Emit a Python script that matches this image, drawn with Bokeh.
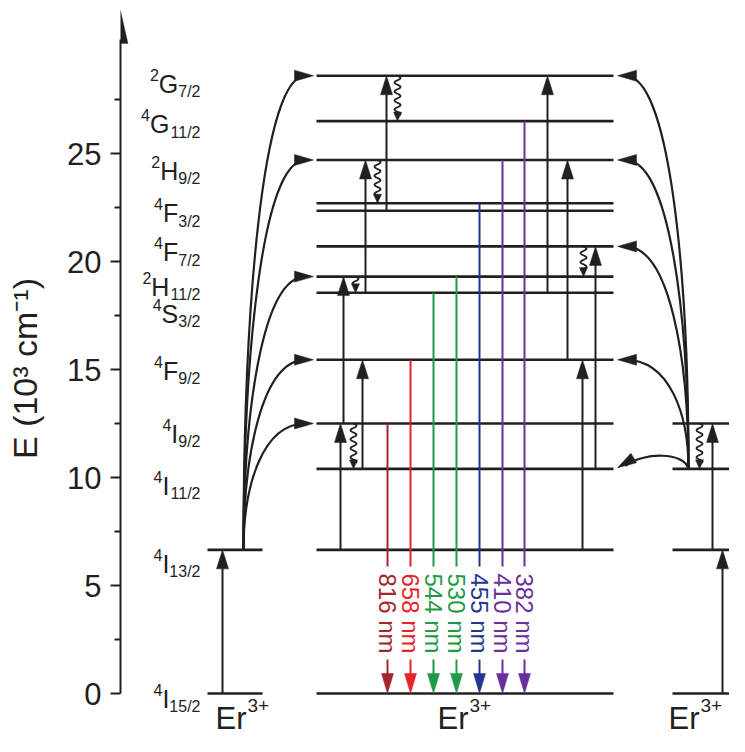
import numpy as np
from bokeh.plotting import figure
from bokeh.models import Range1d, FixedTicker, PolyAnnotation
from bokeh.core.properties import value
from bokeh.embed import file_html
from bokeh.resources import INLINE

# ---------------- data ----------------
level_names = ["4I15/2", "4I13/2", "4I11/2", "4I9/2", "4F9/2", "4S3/2", "2H11/2",
               "4F7/2", "4F5/2", "4F3/2", "2H9/2", "4G11/2", "2G7/2"]
level_energy = [0.0, 6.65, 10.4, 12.5, 15.45, 18.55, 19.3, 20.7, 22.35, 22.7, 24.7, 26.5, 28.6]

label_level = ["4I15/2", "4I13/2", "4I11/2", "4I9/2", "4F9/2", "4S3/2", "2H11/2",
               "4F7/2", "4F3/2", "2H9/2", "4G11/2", "2G7/2"]
label_sup = ["4", "4", "4", "4", "4", "4", "2", "4", "4", "2", "4", "2"]
label_letter = ["I", "I", "I", "I", "F", "S", "H", "F", "F", "H", "G", "G"]
label_sub = ["15/2", "13/2", "11/2", "9/2", "9/2", "3/2", "11/2", "7/2", "3/2", "9/2", "11/2", "7/2"]

emission_nm = [816, 658, 544, 530, 455, 410, 382]
emission_from = ["4I9/2", "4F9/2", "4S3/2", "2H11/2", "4F3/2", "2H9/2", "4G11/2"]
emission_color = ["#a3262a", "#e52329", "#1f9a46", "#1f9a46", "#24358f", "#6a2f9a", "#6a2f9a"]

y_ticks = [0, 5, 10, 15, 20, 25]
y_minor = [2.5, 7.5, 12.5, 17.5, 22.5, 27.5]
ion_label = "Er"
ion_charge = "3+"

# ---------------- layout ----------------
PX = 21.6                      # pixels per 10^3 cm^-1
ZERO_PX = 693                  # pixel row of E = 0
def dy(px):
    return px / PX

E = dict(zip(level_names, level_energy))
INK = "#231f20"
FONT = value("Liberation Sans")

# columns: (x_start, x_end, levels shown)
columns = [
    (207, 262, ["4I15/2", "4I13/2"]),
    (316, 613, level_names),
    (672, 729, ["4I15/2", "4I13/2", "4I11/2", "4I9/2"]),
]
# straight up-arrows (x, from, to)
up_arrows = [
    (222, "4I15/2", "4I13/2"),
    (340, "4I13/2", "4I9/2"),
    (343, "4I9/2", "2H11/2"),
    (362, "4I11/2", "4F9/2"),
    (365, "4S3/2", "2H9/2"),
    (386, "4F5/2", "2G7/2"),
    (547, "4S3/2", "2G7/2"),
    (567, "4F9/2", "2H9/2"),
    (582, "4I13/2", "4F9/2"),
    (595, "4I11/2", "4F7/2"),
    (712, "4I13/2", "4I9/2"),
    (722, "4I15/2", "4I13/2"),
]
# non-radiative (wavy) arrows (x, from, to)
wavy = [
    (353, "4I9/2", "4I11/2"),
    (355, "2H11/2", "4S3/2"),
    (377, "2H9/2", "4F3/2"),
    (397, "2G7/2", "4G11/2"),
    (583, "4F7/2", "2H11/2"),
    (699, "4I9/2", "4I11/2"),
]
emission_x = [387, 410, 433, 456, 479, 502, 524]
TEXT_MID = dy(80)

left_src = (243, "4I13/2")
left_tip_x = 313
left_targets = ["4I9/2", "4F9/2", "2H11/2", "2H9/2", "2G7/2"]
right_src = (688, "4I11/2")
right_tip_x = 617
right_targets = ["4F9/2", "4F7/2", "2H9/2", "2G7/2"]

label_offset = {"4I15/2": 5, "4I13/2": 14, "4I11/2": 17, "4I9/2": 10, "4F9/2": 11,
                "4S3/2": 21, "2H11/2": 10, "4F7/2": 6, "4F3/2": 10, "2H9/2": 11,
                "4G11/2": 3, "2G7/2": 8}
ADV = {"0": .556, "1": .556, "2": .556, "3": .556, "4": .556, "5": .556, "6": .556,
       "7": .556, "8": .556, "9": .556, "/": .278, "G": .778, "H": .722, "F": .611,
       "S": .667, "I": .278, "E": .667, "r": .333}
def width(s, size):
    return sum(ADV.get(c, .556) for c in s) * size

# ---------------- figure ----------------
W, H = 729, 736
p = figure(width=W, height=H, x_range=Range1d(120, W),
           y_range=Range1d(dy(ZERO_PX - H), dy(ZERO_PX)),
           x_axis_location=None, y_axis_location="left", output_backend="svg",
           toolbar_location=None, min_border_left=120, min_border_right=0,
           min_border_top=0, min_border_bottom=0, outline_line_color=None)
p.xgrid.visible = False
p.ygrid.visible = False

ax = p.yaxis[0]
ax.ticker = FixedTicker(ticks=y_ticks, minor_ticks=y_minor)
ax.bounds = (0, 30.3)
ax.axis_line_width = 2
ax.axis_line_color = INK
ax.major_tick_line_width = 2
ax.minor_tick_line_width = 2
ax.major_tick_line_color = INK
ax.minor_tick_line_color = INK
ax.major_tick_out = 10
ax.major_tick_in = 0
ax.minor_tick_out = 6
ax.minor_tick_in = 0
ax.major_label_text_font = "Liberation Sans"
ax.major_label_text_font_size = "31px"
ax.major_label_text_color = INK
ax.major_label_standoff = 9
ax.axis_label = "E (10\u00b3 cm\u207b\u00b9)"
ax.axis_label_text_font = "Liberation Sans"
ax.axis_label_text_font_size = "34px"
ax.axis_label_text_font_style = "normal"
ax.axis_label_text_color = INK
ax.axis_label_standoff = 20

# axis arrow head
ah_tip = dy(ZERO_PX - 10)
p.add_layout(PolyAnnotation(xs=[120, 112.5, 127.5], ys=[ah_tip, ah_tip - dy(33), ah_tip - dy(33)],
                            fill_color=INK, fill_alpha=1, line_color=INK, line_width=1))

# energy levels
lx0, lx1, ly = [], [], []
for xs, xe, levs in columns:
    for n in levs:
        lx0.append(xs); lx1.append(xe); ly.append(E[n])
p.segment(x0=lx0, y0=ly, x1=lx1, y1=ly, line_color=INK, line_width=2.6)

heads = {"xs": [], "ys": [], "c": []}
def head(tx, ty, ux, uy, L, Wd, color):
    bx = tx - L * ux
    byp = -L * uy
    heads["xs"].append([tx, bx - Wd / 2 * uy, bx + Wd / 2 * uy])
    heads["ys"].append([ty, ty + dy(byp + Wd / 2 * ux), ty + dy(byp - Wd / 2 * ux)])
    heads["c"].append(color)

# straight up arrows
sx, sy0, sy1 = [], [], []
for x, a, b in up_arrows:
    sx.append(x); sy0.append(E[a]); sy1.append(E[b] - dy(12))
    head(x, E[b], 0, 1, 19, 12, INK)
p.segment(x0=sx, y0=sy0, x1=sx, y1=sy1, line_color=INK, line_width=2)

# wavy arrows
wxs, wys = [], []
for x, a, b in wavy:
    L = (E[a] - E[b]) * PX - 6
    s = np.linspace(0, L, 200)
    wxs.append(list(x + 3.0 * np.sin(2 * np.pi * s / 9.0)))
    wys.append(list(E[a] - s / PX))
    head(x, E[b], 0, -1, 9, 8, INK)
p.multi_line(xs=wxs, ys=wys, line_color=INK, line_width=1.8)

# emission arrows
for x, n, lvl, c in zip(emission_x, emission_nm, emission_from, emission_color):
    p.segment(x0=[x, x], y0=[E[lvl], TEXT_MID - dy(46)], x1=[x, x],
              y1=[TEXT_MID + dy(47), dy(14)], line_color=c, line_width=2)
    head(x, 0, 0, -1, 20, 12, c)
p.text(x=emission_x, y=[TEXT_MID] * len(emission_x), text=[f"{n} nm" for n in emission_nm],
       angle=-np.pi / 2, text_align="center", text_baseline="middle",
       text_font=FONT, text_font_size="24px", text_color=emission_color)

# curved energy-transfer arrows
def curve(x0, y0, x3, y3, c1=None, c2=None):
    if c1 is None:
        c1 = (x0, y0 + 0.5 * (y3 - y0))
    if c2 is None:
        c2 = (x0 + 0.3 * (x3 - x0), y3)
    return dict(x0=x0, y0=y0, x1=x3, y1=y3, cx0=c1[0], cy0=c1[1], cx1=c2[0], cy1=c2[1])

bz = {k: [] for k in ["x0", "y0", "x1", "y1", "cx0", "cy0", "cx1", "cy1"]}
def add_bz(d):
    for k, v in d.items():
        bz[k].append(v)

sx0, sn = left_src
for t in left_targets:
    add_bz(curve(sx0, E[sn], left_tip_x - 8, E[t]))
    head(left_tip_x, E[t], 1, 0, 19, 11, INK)
rx0, rn = right_src
for t in right_targets:
    add_bz(curve(rx0, E[rn], right_tip_x + 8, E[t]))
    head(right_tip_x, E[t], -1, 0, 19, 11, INK)
# short arc back to the middle 4I11/2
y0 = E[rn]
add_bz(curve(rx0, y0, right_tip_x + 8, y0 + dy(3), (rx0 - 4, y0 + dy(17)), (right_tip_x + 26, y0 + dy(17))))
ux, uy = -23.0, -14.0
nrm = (ux ** 2 + uy ** 2) ** 0.5
head(right_tip_x, y0 + dy(1), ux / nrm, uy / nrm, 19, 11, INK)
p.bezier(line_color=INK, line_width=2.2, **bz)

p.patches(xs=heads["xs"], ys=heads["ys"], fill_color=heads["c"], line_color=heads["c"], line_width=0.5)

# level labels
SUB, MAIN = 16, 25
lab_x_sub, lab_y_sub, lab_x_main, lab_y_main, lab_x_sup, lab_y_sup = [], [], [], [], [], []
for lvl, sup, let, sub in zip(label_level, label_sup, label_letter, label_sub):
    base = E[lvl] - dy(label_offset[lvl])
    xr = 200
    lab_x_sub.append(xr); lab_y_sub.append(base - dy(8))
    xm = xr - width(sub, SUB)
    lab_x_main.append(xm); lab_y_main.append(base)
    lab_x_sup.append(xm - width(let, MAIN)); lab_y_sup.append(base + dy(9))
p.text(x=lab_x_sub, y=lab_y_sub, text=label_sub, text_align="right", text_baseline="alphabetic",
       text_font=FONT, text_font_size=f"{SUB}px", text_color=INK)
p.text(x=lab_x_main, y=lab_y_main, text=label_letter, text_align="right", text_baseline="alphabetic",
       text_font=FONT, text_font_size=f"{MAIN}px", text_color=INK)
p.text(x=lab_x_sup, y=lab_y_sup, text=label_sup, text_align="right", text_baseline="alphabetic",
       text_font=FONT, text_font_size=f"{SUB}px", text_color=INK)

# ion labels (anchored by their top edge)
ion_x = [215, 437, 668]
ER = 31
ion_top = dy(ZERO_PX - 700)
p.text(x=ion_x, y=[ion_top] * 3, text=[ion_label] * 3, text_align="left", text_baseline="top",
       text_font=FONT, text_font_size=f"{ER}px", text_color=INK)
p.text(x=[x + width(ion_label, ER) + 1 for x in ion_x], y=[ion_top + dy(2)] * 3, text=[ion_charge] * 3,
       text_align="left", text_baseline="top", text_font=FONT, text_font_size="19px",
       text_color=INK)

open("out.html", "w").write(file_html(p, INLINE))
